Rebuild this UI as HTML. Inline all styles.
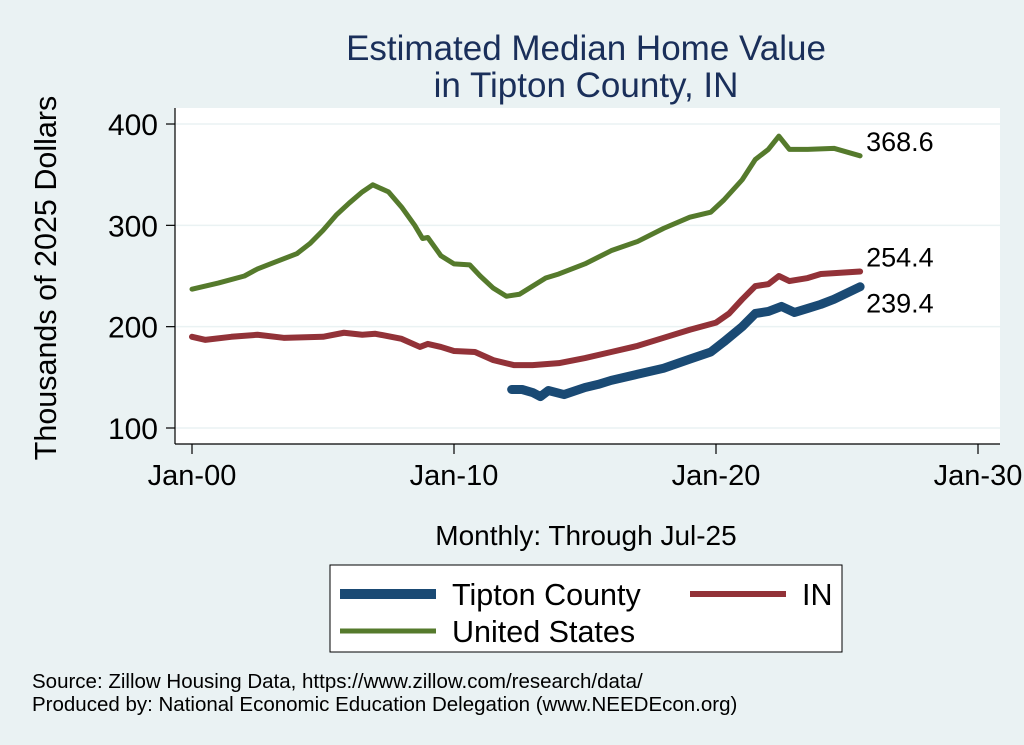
<!DOCTYPE html>
<html><head><meta charset="utf-8"><style>
body{margin:0;background:#eaf2f3;}
svg{display:block;font-family:"Liberation Sans",sans-serif;}
</style></head><body>
<svg width="1024" height="745" viewBox="0 0 1024 745">
<rect x="0" y="0" width="1024" height="745" fill="#eaf2f3"/>
<text x="586" y="60" font-size="35" fill="#1a2f5a" text-anchor="middle">Estimated Median Home Value</text>
<text x="586" y="97" font-size="35" fill="#1a2f5a" text-anchor="middle">in Tipton County, IN</text>
<rect x="175" y="108" width="825" height="336" fill="#fff"/>
<g id="grid"></g>
<g id="axes"></g>
<g id="series"></g>
<text transform="translate(56,278) rotate(-90)" font-size="30.5" text-anchor="middle">Thousands of 2025 Dollars</text>
<text x="586" y="545" font-size="28" text-anchor="middle">Monthly: Through Jul-25</text>
<g>
<rect x="330" y="565" width="512" height="87" fill="#fff" stroke="#000" stroke-width="1"/>
<line x1="340" y1="594" x2="436" y2="594" stroke="#1a4a74" stroke-width="10"/>
<text x="452" y="605" font-size="30.5">Tipton County</text>
<line x1="690" y1="594" x2="786" y2="594" stroke="#923238" stroke-width="6"/>
<text x="802" y="605" font-size="30.5">IN</text>
<line x1="340" y1="631" x2="436" y2="631" stroke="#557a2c" stroke-width="5"/>
<text x="452" y="642" font-size="30.5">United States</text>
</g>
<text x="32" y="688" font-size="20.5">Source: Zillow Housing Data, https://www.zillow.com/research/data/</text>
<text x="32" y="711" font-size="20.5">Produced by: National Economic Education Delegation (www.NEEDEcon.org)</text>
</svg>
<script>
const yTicks=[100,200,300,400];
const xTickYears=[2000,2010,2020,2030];
const xTickLabels=["Jan-00","Jan-10","Jan-20","Jan-30"];
const usDates=[2000,2001,2002,2002.5,2003,2004,2004.5,2005,2005.5,2006,2006.5,2006.9,2007.5,2008,2008.5,2008.8,2009,2009.5,2010,2010.6,2011,2011.5,2012,2012.5,2013,2013.5,2014,2015,2016,2017,2018,2019,2019.8,2020.3,2021,2021.5,2022,2022.4,2022.8,2023.5,2024.5,2025.5];
const usValues=[237,243,250,257,262,272,282,295,310,322,333,340,333,318,300,287,288,270,262,261,250,238,230,232,240,248,252,262,275,284,297,308,313,325,345,365,375,388,375,375,376,368.6];
const inDates=[2000,2000.5,2001.5,2002.5,2003.5,2005,2005.8,2006.5,2007,2008,2008.7,2009,2009.5,2010,2010.8,2011.5,2012.3,2013,2014,2015,2016,2017,2018,2019,2020,2020.5,2021,2021.5,2022,2022.4,2022.8,2023.5,2024,2025.5];
const inValues=[190,187,190,192,189,190,194,192,193,188,180,183,180,176,175,167,162,162,164,169,175,181,189,197,204,213,227,240,242,250,245,248,252,254.4];
const tiptonDates=[2012.2,2012.6,2013,2013.3,2013.6,2014.2,2015,2015.5,2016,2017,2018,2019,2019.8,2020.3,2021,2021.5,2022,2022.5,2023,2023.5,2024,2024.5,2025.5];
const tiptonValues=[138,138,135,131,137,133,140,143,147,153,159,168,175,185,200,213,215,220,214,218,222,227,239.4];
const NS="http://www.w3.org/2000/svg";
function xs(t){return 192+(t-2000)*26.2;}
function ys(v){return 428-(v-100)*1.0133;}
function mk(tag,attrs,parent){const e=document.createElementNS(NS,tag);for(const k in attrs)e.setAttribute(k,attrs[k]);parent.appendChild(e);return e;}
const grid=document.getElementById('grid'),axes=document.getElementById('axes'),series=document.getElementById('series');
yTicks.forEach(v=>{
 const g=mk('line',{x1:175,x2:1000,y1:ys(v),y2:ys(v),stroke:'#eaf2f3','stroke-width':1.5},grid);
 
 
 const t=mk('line',{x1:166,x2:175,y1:ys(v),y2:ys(v),stroke:'#000','stroke-width':1.2},axes);
 
 
 const l=mk('text',{x:158,y:ys(v)+11,'font-size':30,'text-anchor':'end'},axes);
 l.textContent=v;
 
 
});
mk('line',{x1:175,x2:175,y1:108,y2:444,stroke:'#000','stroke-width':1.2},axes);
mk('line',{x1:175,x2:1000,y1:444,y2:444,stroke:'#000','stroke-width':1.2},axes);
xTickYears.forEach((yr,i)=>{
 const t=mk('line',{x1:xs(yr),x2:xs(yr),y1:444,y2:454,stroke:'#000','stroke-width':1.2},axes);
 
 
 const l=mk('text',{x:xs(yr),y:485,'font-size':29,'text-anchor':'middle'},axes);
 l.textContent=xTickLabels[i];
 
 
});
function line(d,v,color,w,name,ly){
 const p=mk('polyline',{points:d.map((t,i)=>xs(t)+','+ys(v[i])).join(' '),fill:'none',stroke:color,'stroke-width':w,'stroke-linejoin':'round','stroke-linecap':'round'},series);
 
 
 const last=v.length-1;
 const l=mk('text',{x:xs(d[last])+6,y:ys(v[last])+ly,'font-size':27},series);
 l.textContent=v[last].toFixed(1);
 
 
}
line(usDates,usValues,'#557a2c',5,'us-line',-5);
line(inDates,inValues,'#923238',6,'in-line',-5);
line(tiptonDates,tiptonValues,'#1a4a74',9,'tipton-line',26);
</script>
</body></html>
